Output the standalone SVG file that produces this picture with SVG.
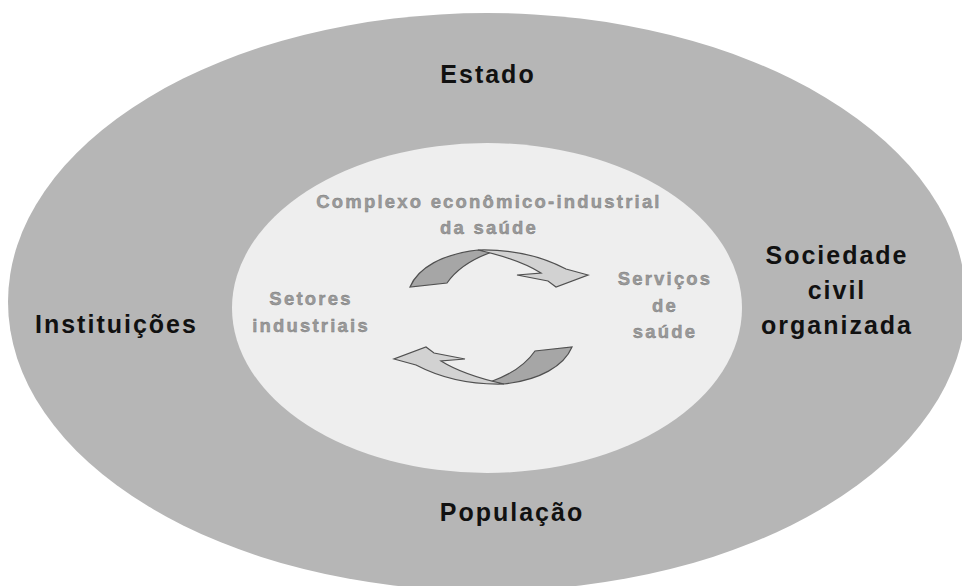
<svg xmlns="http://www.w3.org/2000/svg" width="962" height="586" viewBox="0 0 962 586">
<defs>
<style>
.outer{fill:#b6b6b6;}
.inner{fill:#eeeeee;}
.big{font-family:"Liberation Sans",Arial,sans-serif;font-weight:bold;font-size:25px;fill:#111;letter-spacing:2px;}
.small{font-family:"Liberation Sans",Arial,sans-serif;font-weight:bold;font-size:18.5px;fill:#9a9a9a;stroke:#7a7a7a;stroke-width:0.4;letter-spacing:2.2px;}
.dark{fill:#a6a6a6;stroke:#505050;stroke-width:1.2;}
.light{fill:#d2d2d2;stroke:#505050;stroke-width:1.2;}
</style>
</defs>
<g id="outer-ellipse">
<ellipse class="outer" cx="487" cy="302" rx="479" ry="289"/>
<text class="big" x="488" y="83" text-anchor="middle">Estado</text>
<text class="big" x="35" y="333">Instituições</text>
<text class="big" x="837" y="264" text-anchor="middle">Sociedade</text>
<text class="big" x="837" y="299" text-anchor="middle">civil</text>
<text class="big" x="837" y="334" text-anchor="middle">organizada</text>
<text class="big" x="512" y="521" text-anchor="middle">População</text>
</g>
<g id="inner-ellipse">
<ellipse class="inner" cx="487" cy="308" rx="255" ry="165"/>
<text class="small" x="489" y="208" text-anchor="middle">Complexo econômico-industrial</text>
<text class="small" x="489" y="234" text-anchor="middle">da saúde</text>
<text class="small" x="311" y="305" text-anchor="middle">Setores</text>
<text class="small" x="311" y="332" text-anchor="middle">industriais</text>
<text class="small" x="665" y="285" text-anchor="middle">Serviços</text>
<text class="small" x="665" y="312" text-anchor="middle">de</text>
<text class="small" x="665" y="338" text-anchor="middle">saúde</text>
</g>
<g id="connectors">
<g id="arrow-top">
<path class="dark" d="M410,287 C418,268 442,254 478,250 L492,252 C472,259 456,270 447,283 Z"/>
<path class="light" d="M478,250 C515,249 545,258 566,269 L588,275 L556,287 L548,281 L517,275 L541,273 C525,263 505,256 478,250 Z"/>
</g>
<g id="arrow-bottom" transform="rotate(180 491 317)">
<path class="dark" d="M410,287 C418,268 442,254 478,250 L492,252 C472,259 456,270 447,283 Z"/>
<path class="light" d="M478,250 C515,249 545,258 566,269 L588,275 L556,287 L548,281 L517,275 L541,273 C525,263 505,256 478,250 Z"/>
</g>
</g>
</svg>
